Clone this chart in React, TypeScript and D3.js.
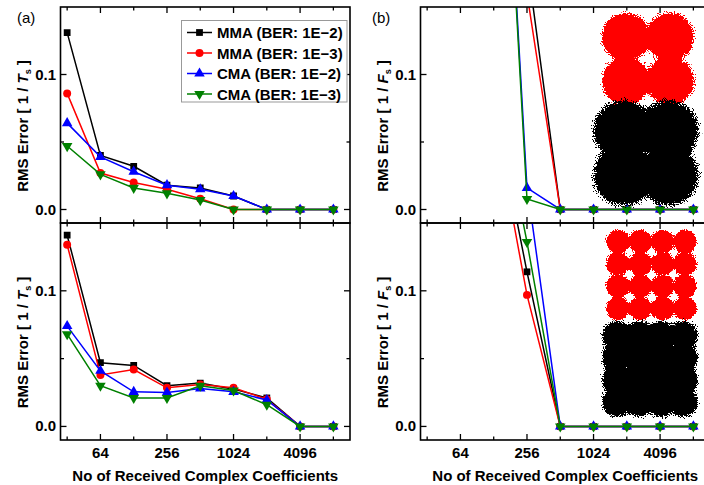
import React from "react";
import * as d3 from "d3";

// ---------- data ----------
const xValues = [32, 64, 128, 256, 512, 1024, 2048, 4096, 8192];
const xTickLabels = [64, 256, 1024, 4096];
const yTickLabels = [0.0, 0.1];
const seriesNames = ["MMA (BER: 1E\u22122)", "MMA (BER: 1E\u22123)", "CMA (BER: 1E\u22122)", "CMA (BER: 1E\u22123)"];
const seriesColors = ["#000000", "#ff0000", "#0000ff", "#008000"];
const seriesSymbols = ["square", "circle", "triangleUp", "triangleDown"];

// panel (a) top : 1 / Ts
const aTopMma2 = [0.131, 0.040, 0.032, 0.018, 0.016, 0.010, 0, 0, 0];
const aTopMma3 = [0.086, 0.027, 0.020, 0.015, 0.008, 0, 0, 0, 0];
const aTopCma2 = [0.064, 0.039, 0.028, 0.018, 0.015, 0.010, 0, 0, 0];
const aTopCma3 = [0.047, 0.026, 0.016, 0.012, 0.007, 0, 0, 0, 0];
// panel (a) bottom
const aBotMma2 = [0.141, 0.047, 0.045, 0.030, 0.032, 0.0275, 0.021, 0, 0];
const aBotMma3 = [0.134, 0.038, 0.042, 0.0285, 0.031, 0.0285, 0.020, 0, 0];
const aBotCma2 = [0.074, 0.041, 0.0255, 0.025, 0.028, 0.0255, 0.0195, 0, 0];
const aBotCma3 = [0.068, 0.030, 0.021, 0.021, 0.030, 0.0265, 0.016, 0, 0];
// panel (b) top : 1 / Fs
const bTopMma2 = [null, null, 0.5, 0.184, 0, 0, 0, 0, 0];
const bTopMma3 = [null, null, 0.5, 0.160, 0, 0, 0, 0, 0];
const bTopCma2 = [null, null, 0.45, 0.016, 0, 0, 0, 0, 0];
const bTopCma3 = [null, null, 0.45, 0.0078, 0, 0, 0, 0, 0];
// panel (b) bottom
const bBotMma2 = [null, null, 0.238, 0.114, 0, 0, 0, 0, 0];
const bBotMma3 = [null, null, 0.23, 0.097, 0, 0, 0, 0, 0];
const bBotCma2 = [null, null, 0.30, 0.178, 0, 0, 0, 0, 0];
const bBotCma3 = [null, null, 0.26, 0.136, 0, 0, 0, 0, 0];

// constellation cluster grids (normalised I/Q levels)
const qpskLevels = [-1, 1];
const qam16Levels = [-3, -1, 1, 3];

const W = 704;
const H = 485;
const FONT = "'Liberation Sans', Arial, sans-serif";

type Panel = {
  id: string;
  x0: number;
  x1: number;
  y0: number;
  y1: number;
  series: (number | null)[][];
  unit: string;
  showXLabels: boolean;
};

const LEFT = { x0: 60.5, x1: 350 };
const RIGHT = { x0: 420.5, x1: 710 };
const TOP = { y0: 7, y1: 223 };
const BOT = { y0: 223, y1: 440 };

const panels: Panel[] = [
  { id: "at", ...LEFT, ...TOP, series: [aTopMma2, aTopMma3, aTopCma2, aTopCma3], unit: "T", showXLabels: false },
  { id: "ab", ...LEFT, ...BOT, series: [aBotMma2, aBotMma3, aBotCma2, aBotCma3], unit: "T", showXLabels: true },
  { id: "bt", ...RIGHT, ...TOP, series: [bTopMma2, bTopMma3, bTopCma2, bTopCma3], unit: "F", showXLabels: false },
  { id: "bb", ...RIGHT, ...BOT, series: [bBotMma2, bBotMma3, bBotCma2, bBotCma3], unit: "F", showXLabels: true },
];

function symbolPath(kind: string) {
  if (kind === "square") return d3.symbol().type(d3.symbolSquare).size(46)()!;
  if (kind === "circle") return d3.symbol().type(d3.symbolCircle).size(50)()!;
  return d3.symbol().type(d3.symbolTriangle).size(48)()!;
}

function PanelView({ p }: { p: Panel }) {
  const x = d3.scaleLog().base(2).domain([Math.pow(2, 4.8), Math.pow(2, 13.5)]).range([p.x0, p.x1]);
  const y = d3.scaleLinear().domain([-0.01, 0.15]).range([p.y1, p.y0]);
  const line = d3
    .line<number | null>()
    .defined((d) => d !== null)
    .x((_, i) => x(xValues[i]))
    .y((d) => y(d as number));
  const majorSet = new Set(xTickLabels);
  const labelX = p.x0 - 4.5;
  const midY = (p.y0 + p.y1) / 2 + 11;
  return (
    <g>
      <defs>
        <clipPath id={"clip-" + p.id}>
          <rect x={p.x0} y={p.y0} width={p.x1 - p.x0} height={p.y1 - p.y0} />
        </clipPath>
      </defs>
      <g clipPath={`url(#clip-${p.id})`}>
        {p.series.map((s, si) => (
          <g key={si}>
            <path d={line(s) || ""} fill="none" stroke={seriesColors[si]} strokeWidth={1.5} />
            {s.map((v, i) =>
              v === null ? null : (
                <path
                  key={i}
                  d={symbolPath(seriesSymbols[si])}
                  transform={`translate(${x(xValues[i])},${y(v)})${seriesSymbols[si] === "triangleDown" ? " rotate(180)" : ""}`}
                  fill={seriesColors[si]}
                />
              )
            )}
          </g>
        ))}
      </g>
      {xValues.map((v) => {
        const len = majorSet.has(v) ? 6 : 3.5;
        const xx = x(v);
        return (
          <g key={v} stroke="#000" strokeWidth={1.3}>
            <line x1={xx} x2={xx} y1={p.y1} y2={p.y1 - len} />
            <line x1={xx} x2={xx} y1={p.y0} y2={p.y0 + len} />
          </g>
        );
      })}
      {[0, 0.05, 0.1].map((v) => {
        const len = v === 0.05 ? 3.5 : 6;
        const yy = y(v);
        return (
          <g key={v} stroke="#000" strokeWidth={1.3}>
            <line x1={p.x0} x2={p.x0 + len} y1={yy} y2={yy} />
            <line x1={p.x1} x2={p.x1 - len} y1={yy} y2={yy} />
          </g>
        );
      })}
      <rect x={p.x0} y={p.y0} width={p.x1 - p.x0} height={p.y1 - p.y0} fill="none" stroke="#000" strokeWidth={1.6} />
      {yTickLabels.map((v) => (
        <text key={v} x={labelX} y={y(v) + 5} textAnchor="end" fontFamily={FONT} fontWeight="bold" fontSize={15}>
          {v.toFixed(1)}
        </text>
      ))}
      {p.showXLabels &&
        xTickLabels.map((v) => (
          <text key={v} x={x(v)} y={458} textAnchor="middle" fontFamily={FONT} fontWeight="bold" fontSize={15}>
            {v}
          </text>
        ))}
      {p.showXLabels && (
        <text x={(p.x0 + p.x1) / 2} y={481} textAnchor="middle" fontFamily={FONT} fontWeight="bold" fontSize={15}>
          No of Received Complex Coefficients
        </text>
      )}
      <text
        transform={`translate(${p.x0 - 33},${midY}) rotate(-90)`}
        textAnchor="middle"
        fontFamily={FONT}
        fontWeight="bold"
        fontSize={15}
      >
        RMS Error [ 1 /{" "}
        <tspan fontStyle="italic">{p.unit}</tspan>
        <tspan fontSize={9} dy={3}>s</tspan>
        <tspan dy={-3}> ]</tspan>
      </text>
    </g>
  );
}

function Constellation({
  cx,
  cy,
  spacing,
  levels,
  r,
  grad,
  filter,
}: {
  cx: number;
  cy: number;
  spacing: number;
  levels: number[];
  r: number;
  grad: string;
  filter: string;
}) {
  const s = d3.scaleLinear().domain([-1, 1]).range([-spacing / 2, spacing / 2]);
  const pts: [number, number][] = [];
  levels.forEach((i) => levels.forEach((q) => pts.push([i, q])));
  return (
    <g filter={`url(#${filter})`}>
      {pts.map(([i, q], k) => (
        <circle key={k} cx={cx + s(i)} cy={cy + s(q)} r={r} fill={`url(#${grad})`} />
      ))}
    </g>
  );
}

function speckleFilter(id: string, color: string, seed: number) {
  return (
    <filter id={id} filterUnits="userSpaceOnUse" x={0} y={0} width={W} height={H} colorInterpolationFilters="sRGB">
      <feTurbulence type="fractalNoise" baseFrequency={0.9} numOctaves={1} seed={seed} result="noise" />
      <feColorMatrix in="noise" type="matrix" values="0 0 0 0 0  0 0 0 0 0  0 0 0 0 0  2.2 0 0 0 -0.6" result="na" />
      <feComposite in="SourceAlpha" in2="na" operator="arithmetic" k1={0} k2={1.2} k3={1} k4={-1.1} result="thr0" />
      <feComponentTransfer in="thr0" result="thr">
        <feFuncA type="linear" slope={40} intercept={0} />
      </feComponentTransfer>
      <feFlood floodColor={color} result="col" />
      <feComposite in="col" in2="thr" operator="in" />
    </filter>
  );
}

function grad(id: string, solid: number, mid: number, midOp: number) {
  return (
    <radialGradient id={id}>
      <stop offset="0" stopColor="#000" stopOpacity={1} />
      <stop offset={solid} stopColor="#000" stopOpacity={1} />
      <stop offset={mid} stopColor="#000" stopOpacity={midOp} />
      <stop offset="1" stopColor="#000" stopOpacity={0} />
    </radialGradient>
  );
}

export default function App() {
  const legendRows = [32.5, 53, 73.5, 94];
  return (
    <svg width={W} height={H} viewBox={`0 0 ${W} ${H}`} style={{ position: "absolute", left: 0, top: 0, background: "#fff" }}>
      <defs>
        {grad("gRed4", 0.77, 0.87, 0.4)}
        {grad("gBlack4", 0.74, 0.86, 0.5)}
        {grad("gRed16", 0.72, 0.86, 0.4)}
        {grad("gBlack16", 0.65, 0.82, 0.35)}
        {speckleFilter("spkRed", "#ff0000", 3)}
        {speckleFilter("spkBlack", "#000000", 7)}
      </defs>
      <rect x={0} y={0} width={W} height={H} fill="#fff" />
      {panels.map((p) => (
        <PanelView key={p.id} p={p} />
      ))}
      {/* constellation insets */}
      <Constellation cx={648} cy={59} spacing={44} levels={qpskLevels} r={28} grad="gRed4" filter="spkRed" />
      <Constellation cx={646} cy={153} spacing={45} levels={qpskLevels} r={35} grad="gBlack4" filter="spkBlack" />
      <Constellation cx={651.5} cy={275} spacing={22.3} levels={qam16Levels} r={14} grad="gRed16" filter="spkRed" />
      <Constellation cx={650} cy={369} spacing={22} levels={qam16Levels} r={19} grad="gBlack16" filter="spkBlack" />
      {/* legend */}
      <rect x={181.5} y={20.5} width={165.5} height={81.5} fill="#fff" stroke="#999" strokeWidth={1} />
      {seriesNames.map((name, i) => (
        <g key={name}>
          <line x1={187} x2={212} y1={legendRows[i]} y2={legendRows[i]} stroke={seriesColors[i]} strokeWidth={1.5} />
          <path
            d={symbolPath(seriesSymbols[i])}
            transform={`translate(199.5,${legendRows[i]})${seriesSymbols[i] === "triangleDown" ? " rotate(180)" : ""}`}
            fill={seriesColors[i]}
          />
          <text x={217} y={legendRows[i] + 5.5} fontFamily={FONT} fontWeight="bold" fontSize={15}>
            {name}
          </text>
        </g>
      ))}
      <text x={17} y={23} fontFamily={FONT} fontSize={15}>(a)</text>
      <text x={372} y={23} fontFamily={FONT} fontSize={15}>(b)</text>
    </svg>
  );
}
